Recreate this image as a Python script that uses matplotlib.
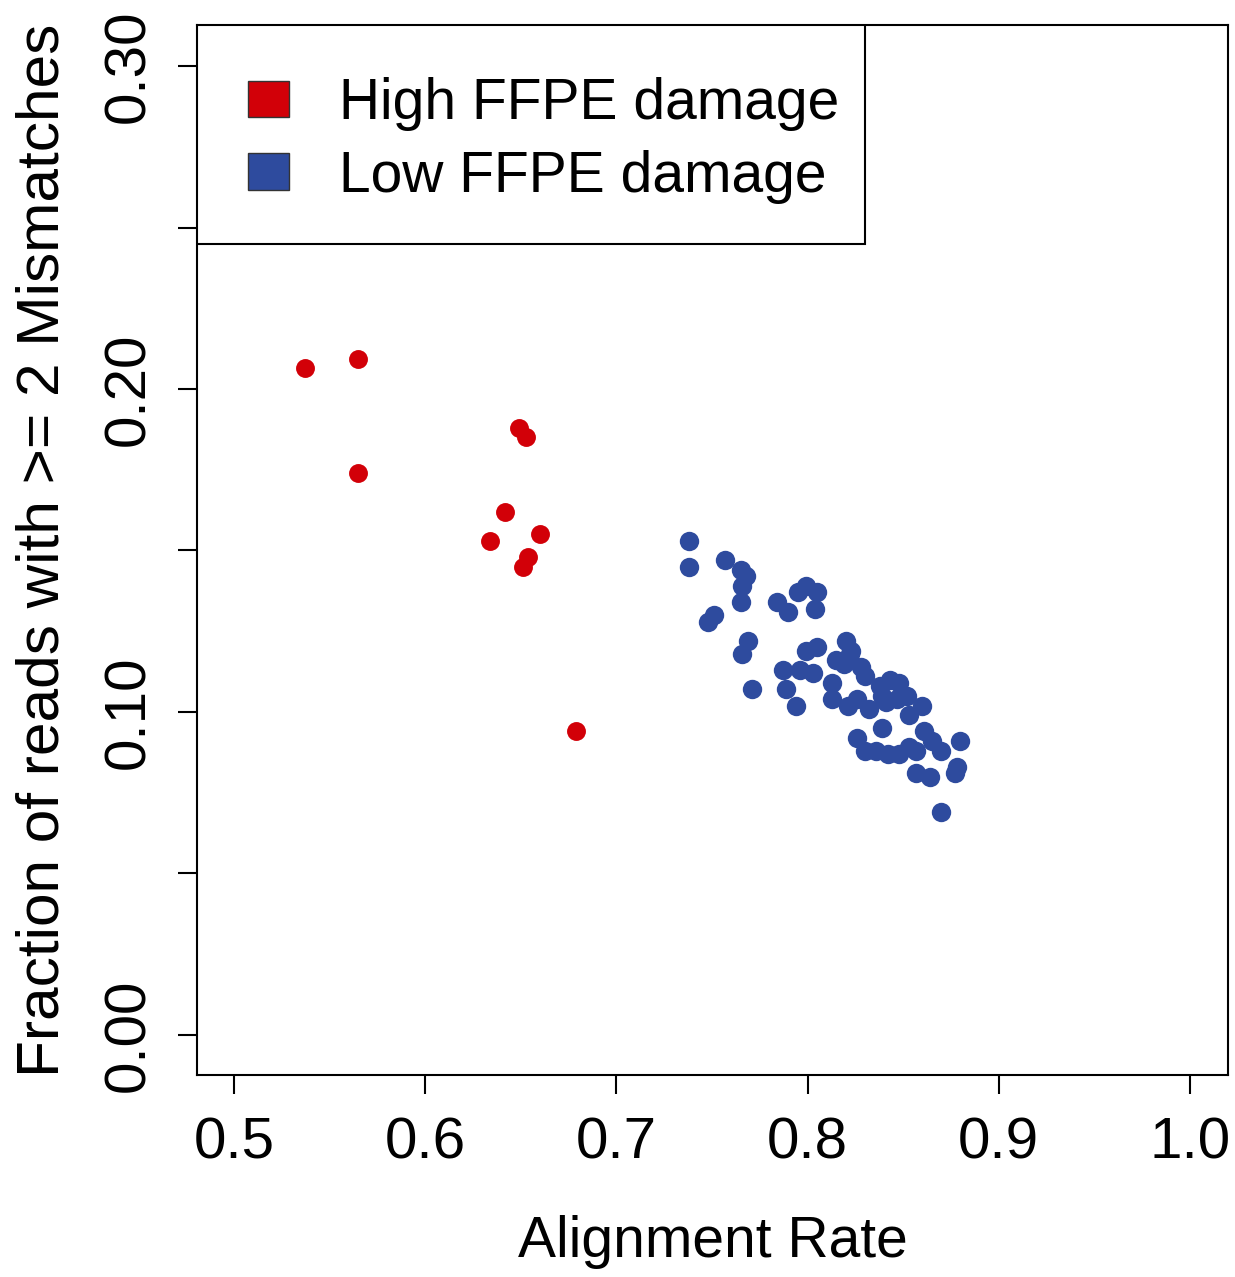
import matplotlib
matplotlib.use("Agg")
import matplotlib.pyplot as plt
from matplotlib.patches import Patch, Rectangle

plt.rcParams['font.family'] = ['Liberation Sans', 'DejaVu Sans']

# DATA
high_x = [0.537, 0.565, 0.565, 0.649, 0.653, 0.642, 0.634, 0.660, 0.654, 0.651, 0.679]
high_y = [0.2065, 0.2093, 0.174, 0.188, 0.185, 0.162, 0.153, 0.155, 0.148, 0.145, 0.094]

low_x = [0.738, 0.738, 0.757, 0.765, 0.768, 0.766, 0.765, 0.748, 0.751, 0.769,
         0.766, 0.771, 0.784, 0.790, 0.799, 0.795, 0.805, 0.804, 0.799, 0.805,
         0.787, 0.796, 0.803, 0.789, 0.794, 0.820, 0.823, 0.815, 0.819, 0.828,
         0.830, 0.822, 0.813, 0.813, 0.821, 0.826, 0.832, 0.838, 0.843, 0.848,
         0.839, 0.847, 0.852, 0.860, 0.853, 0.841, 0.839, 0.826, 0.830, 0.836,
         0.842, 0.848, 0.853, 0.857, 0.861, 0.865, 0.870, 0.880, 0.878, 0.877,
         0.857, 0.864, 0.870]
low_y = [0.153, 0.145, 0.147, 0.144, 0.142, 0.139, 0.134, 0.128, 0.130, 0.122,
         0.118, 0.107, 0.134, 0.131, 0.139, 0.137, 0.137, 0.132, 0.119, 0.120,
         0.113, 0.113, 0.112, 0.107, 0.102, 0.122, 0.119, 0.116, 0.115, 0.114,
         0.111, 0.118, 0.109, 0.104, 0.102, 0.104, 0.101, 0.108, 0.110, 0.109,
         0.105, 0.104, 0.105, 0.102, 0.099, 0.103, 0.095, 0.092, 0.088, 0.088,
         0.087, 0.087, 0.089, 0.088, 0.094, 0.091, 0.088, 0.091, 0.083, 0.081,
         0.081, 0.080, 0.069]

x_ticks = [0.5, 0.6, 0.7, 0.8, 0.9, 1.0]
y_ticks = [0.00, 0.05, 0.10, 0.15, 0.20, 0.25, 0.30]
y_labels = ["0.00", "", "0.10", "", "0.20", "", "0.30"]

red = "#d20008"
blue = "#2e4b9e"

fig = plt.figure(figsize=(12.35, 12.77), dpi=100)
ax = fig.add_axes([0.1595, 0.1582, 0.8348, 0.8222])

ax.scatter(high_x, high_y, s=185, color=red, linewidths=0)
ax.scatter(low_x, low_y, s=195, color=blue, linewidths=0)

ax.set_xlim(0.4807, 1.0199)
ax.set_ylim(-0.0124, 0.3127)

ax.set_xticks(x_ticks)
ax.set_xticklabels([str(v) for v in x_ticks])
ax.set_yticks(y_ticks)
ax.set_yticklabels(y_labels, rotation=90, va='center')

ax.tick_params(axis='both', direction='out', length=14, width=1.5, labelsize=42)
ax.tick_params(axis='x', pad=16)
ax.tick_params(axis='y', pad=15.5)
for sp in ax.spines.values():
    sp.set_linewidth(1.5)

ax.set_xlabel("Alignment Rate", fontsize=41, labelpad=32)
ax.set_ylabel("Fraction of reads with >= 2 Mismatches", fontsize=43.5, labelpad=23)

# legend box, R style (flush with the top-left corner of the plot box)
ax.add_patch(Rectangle((0, 0.7914), 0.648, 0.2086, transform=ax.transAxes,
                       facecolor='white', edgecolor='black', linewidth=1.5,
                       zorder=4))
handles = [Patch(facecolor=red, edgecolor='#333333', label="High FFPE damage"),
           Patch(facecolor=blue, edgecolor='#333333', label="Low FFPE damage")]
leg = ax.legend(handles=handles, loc='upper left',
                bbox_to_anchor=(248 / 1235, 1 - 77 / 1277),
                bbox_transform=fig.transFigure,
                borderaxespad=0, fontsize=41, frameon=False,
                handlelength=0.72, handleheight=0.62, handletextpad=0.87,
                borderpad=0, labelspacing=0.33)
leg.set_zorder(5)

fig.savefig("out.png", dpi=100, facecolor='white')
